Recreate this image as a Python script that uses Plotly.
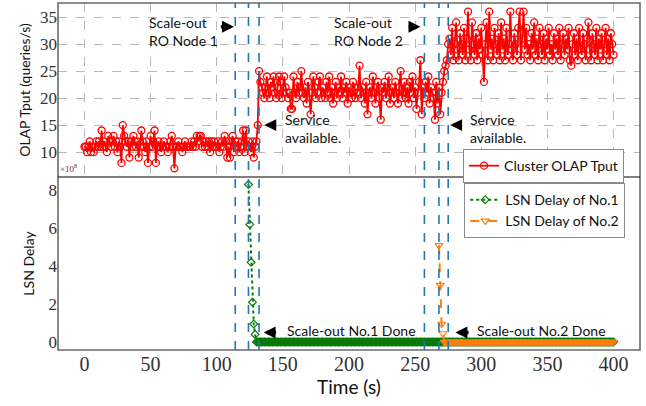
import plotly.graph_objects as go
from plotly.subplots import make_subplots

# ---------------- data ----------------
TIME = list(range(0, 401))  # 1 s sampling

TPUT = [
    # t=0..130
    11, 11, 10, 11, 12, 10, 11, 10, 11, 12,
    11, 12, 11, 14, 11, 12, 11, 10, 13, 12,
    11, 12, 13, 11, 12, 10, 12, 11, 8, 15,
    13, 12, 11, 12, 9, 12, 11, 13, 12, 11,
    12, 9, 11, 14, 12, 11, 10, 12, 8, 11,
    13, 11, 12, 14, 8, 11, 12, 11, 10, 11,
    12, 11, 11, 10, 11, 12, 13, 11, 7, 11,
    11, 12, 11, 11, 10, 11, 12, 11, 11, 11,
    11, 12, 11, 12, 11, 13, 12, 13, 13, 11,
    12, 11, 12, 11, 12, 10, 12, 11, 12, 11,
    11, 12, 10, 11, 12, 11, 13, 12, 9, 11,
    9, 12, 13, 10, 12, 11, 12, 10, 11, 12,
    14, 10, 14, 11, 12, 11, 10, 12, 9, 11,
    12,
    # t=131..132
    15, 25,
    # t=133..268
    23, 22, 21, 20, 22, 24, 21, 20, 23, 22,
    24, 21, 20, 22, 24, 23, 20, 21, 24, 22,
    21, 20, 21, 18, 18, 24, 21, 20, 23, 21,
    22, 25, 21, 20, 22, 19, 23, 21, 17, 21,
    24, 22, 20, 21, 23, 24, 20, 22, 21, 20,
    23, 21, 24, 20, 22, 19, 21, 23, 20, 22,
    21, 24, 20, 22, 21, 23, 19, 22, 21, 20,
    23, 22, 20, 21, 22, 26, 20, 22, 21, 19,
    23, 17, 21, 22, 20, 24, 21, 19, 22, 23,
    20, 16, 22, 21, 23, 20, 22, 24, 19, 21,
    22, 20, 23, 21, 19, 22, 25, 20, 21, 23,
    20, 22, 19, 23, 21, 24, 20, 22, 18, 21,
    23, 27, 17, 22, 20, 23, 21, 24, 19, 22,
    21, 20, 16, 23, 19, 22,
    # t=269..275
    17, 21, 23, 25, 26, 27, 30,
    # t=276..400
    31, 28, 33, 27, 30, 34, 29, 27, 32, 30,
    28, 33, 27, 31, 36, 29, 27, 34, 30, 28,
    32, 27, 31, 29, 33, 28, 23, 30, 34, 27,
    36, 29, 31, 27, 33, 30, 28, 32, 27, 34,
    29, 31, 27, 33, 28, 30, 36, 29, 27, 32,
    30, 28, 33, 36, 27, 31, 36, 29, 33, 28,
    30, 27, 32, 29, 34, 28, 31, 27, 33, 30,
    28, 32, 27, 31, 29, 33, 28, 30, 27, 32,
    29, 31, 28, 33, 27, 30, 32, 28, 31, 29,
    33, 27, 26, 30, 32, 28, 31, 27, 33, 29,
    28, 32, 30, 27, 31, 34, 29, 27, 32, 30,
    28, 33, 27, 31, 29, 32, 27, 30, 33, 28,
    31, 27, 32, 30, 28,
]

LSN1_START = 124
LSN1 = [8.3, 6.2, 4.2, 2.1, 0.95, 0.4] + [0.0] * 271   # t=124..400 (x1e8)
LSN2_START = 268
LSN2 = [5.1, 3.0, 0.95, 0.45] + [0.0] * 129            # t=268..400 (x1e8)

EVENT_LINES = [114, 124, 132, 257, 268, 275]

X_TICKS = [0, 50, 100, 150, 200, 250, 300, 350, 400]
TOP_TICKS = [10, 15, 20, 25, 30, 35]
BOT_TICKS = [0, 2, 4, 6, 8]

# ---------------- figure ----------------
SANS = "Lato, DejaVu Sans, sans-serif"
SERIF = "Liberation Serif, DejaVu Serif, serif"
SPLIT = 0.4986

fig = make_subplots(rows=2, cols=1, shared_xaxes=True, vertical_spacing=0)

fig.add_trace(go.Scatter(
    x=TIME, y=TPUT, mode="lines+markers", name="Cluster OLAP Tput",
    line=dict(color="#ff0000", width=1.8),
    marker=dict(symbol="circle-open", size=7, color="#ff0000", line=dict(width=1.3)),
    legend="legend",
), row=1, col=1)

t1 = [LSN1_START + i for i in range(len(LSN1))]
t2 = [LSN2_START + i for i in range(len(LSN2))]

fig.add_trace(go.Scatter(
    x=t1, y=LSN1, mode="lines+markers", name="LSN Delay of No.1",
    line=dict(color="#0a7a0a", width=2, dash="dot"),
    marker=dict(symbol="diamond-open", size=6, color="#0a7a0a", line=dict(width=1.2)),
    legend="legend2",
), row=2, col=1)

fig.add_trace(go.Scatter(
    x=t2, y=LSN2, mode="lines+markers", name="LSN Delay of No.2",
    line=dict(color="#ff7f0e", width=2, dash="dash"),
    marker=dict(symbol="triangle-down-open", size=7, color="#ff7f0e", line=dict(width=1.2)),
    legend="legend2",
), row=2, col=1)

# event lines spanning both panels
for xv in EVENT_LINES:
    fig.add_shape(type="line", x0=xv, x1=xv, y0=0, y1=1, xref="x2", yref="paper",
                  line=dict(color="#1f77b4", width=1.6, dash="dash"))

# frame and separator
fig.add_shape(type="rect", x0=0, x1=1, y0=0, y1=1, xref="paper", yref="paper",
              line=dict(color="#6a6a6a", width=1.6), layer="above")
fig.add_shape(type="line", x0=0, x1=1, y0=SPLIT, y1=SPLIT, xref="paper", yref="paper",
              line=dict(color="#000000", width=1.2), layer="above")

ann_font = dict(family=SANS, size=14, color="#111111")

def text_ann(x, y, text, xref, yref):
    fig.add_annotation(x=x, y=y, xref=xref, yref=yref, text=text, showarrow=False,
                       xanchor="left", yanchor="middle", align="left", font=ann_font)

def arrow_ann(xtip, xtail, y, xref, yref):
    fig.add_annotation(x=xtip, y=y, ax=xtail, ay=y, xref=xref, yref=yref,
                       axref=xref, ayref=yref, text="", showarrow=True,
                       arrowhead=2, arrowsize=0.7, arrowwidth=3.4, arrowcolor="#000000")

text_ann(47, 32.4, "Scale-out<br>RO Node 1", "x", "y")
arrow_ann(113, 102, 33.2, "x", "y")
text_ann(187, 32.4, "Scale-out<br>RO Node 2", "x", "y")
arrow_ann(254, 244, 33.2, "x", "y")
text_ann(150, 14.4, "Service<br>available.", "x", "y")
arrow_ann(136, 146, 15.0, "x", "y")
text_ann(290, 14.4, "Service<br>available.", "x", "y")
arrow_ann(276.5, 286.5, 15.0, "x", "y")
text_ann(151.5, 0.62, "Scale-out No.1 Done", "x2", "y2")
arrow_ann(135.5, 146, 0.5, "x2", "y2")
text_ann(295, 0.62, "Scale-out No.2 Done", "x2", "y2")
arrow_ann(280.5, 291.5, 0.5, "x2", "y2")

fig.add_annotation(x=0.0, y=SPLIT + 0.004, xref="paper", yref="paper", text="×10<sup>8</sup>",
                   showarrow=False, xanchor="left", yanchor="bottom",
                   font=dict(family=SERIF, size=9, color="#444444"))

grid = dict(showgrid=True, gridcolor="#b8b8b8", griddash="dash", gridwidth=0.8)

fig.update_layout(
    width=646, height=406,
    margin=dict(l=58, r=6, t=3, b=56),
    paper_bgcolor="white", plot_bgcolor="white",
    showlegend=True,
    xaxis=dict(range=[-20, 420], tickvals=X_TICKS, showticklabels=False, automargin=False,
               zeroline=False, showline=False, **grid),
    xaxis2=dict(range=[-20, 420], tickvals=X_TICKS, showgrid=False, zeroline=False,
                automargin=False, showline=False, ticks="",
                tickfont=dict(family=SERIF, size=20, color="#333333"),
                title=dict(text="Time (s)", font=dict(family=SANS, size=19, color="#111111"),
                           standoff=4)),
    yaxis=dict(domain=[SPLIT, 1.0], range=[5.4, 37.6], tickvals=TOP_TICKS, automargin=False,
               zeroline=False, showline=False, ticks="",
               tickfont=dict(family=SERIF, size=17, color="#333333"),
               title=dict(text="OLAP Tput (queries/s)", font=dict(family=SANS, size=14, color="#111111"),
                          standoff=6), **grid),
    yaxis2=dict(domain=[0.0, SPLIT], range=[-0.42, 8.7], tickvals=BOT_TICKS, automargin=False,
                showgrid=False, zeroline=False, showline=False, ticks="",
                tickfont=dict(family=SERIF, size=17, color="#333333"),
                title=dict(text="LSN Delay", font=dict(family=SANS, size=14, color="#111111"),
                           standoff=10)),
    legend=dict(x=0.696, y=0.579, xanchor="left", yanchor="top",
                bgcolor="white", bordercolor="#8a8a8a", borderwidth=1,
                font=dict(family=SANS, size=14, color="#111111")),
    legend2=dict(x=0.698, y=0.481, xanchor="left", yanchor="top",
                 bgcolor="white", bordercolor="#8a8a8a", borderwidth=1,
                 font=dict(family=SANS, size=14, color="#111111")),
)

fig.write_html("out.html", config={"displayModeBar": False},
               post_script="document.body.style.margin='0px';")
